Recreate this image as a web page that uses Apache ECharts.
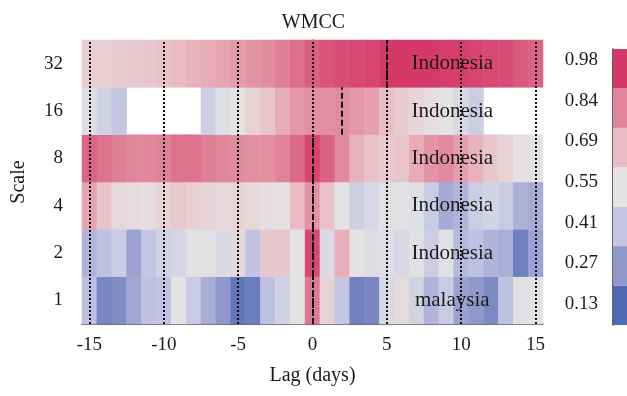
<!DOCTYPE html>
<html><head><meta charset="utf-8">
<script src="https://cdn.jsdelivr.net/npm/echarts@6/dist/echarts.min.js"></script>
<style>html,body{margin:0;padding:0;background:#fff}#c{width:627px;height:396px}</style>
</head><body><div id="c"></div>
<script>
const lags = [-15,-14,-13,-12,-11,-10,-9,-8,-7,-6,-5,-4,-3,-2,-1,0,1,2,3,4,5,6,7,8,9,10,11,12,13,14,15];
const scales = ['1','2','4','8','16','32'];
// values per scale, lags -15..15 ('-' = no value, drawn white)
const scale1  = [0.40,0.22,0.24,0.32,0.40,0.41,0.55,0.44,0.34,0.27,0.17,0.19,0.40,0.47,0.55,0.86,0.62,0.42,0.20,0.22,0.50,0.59,0.48,0.36,0.44,0.30,0.27,0.23,0.40,0.54,0.55];
const scale2  = [0.36,0.40,0.44,0.30,0.42,0.47,0.49,0.54,0.54,0.51,0.60,0.41,0.66,0.66,0.55,0.95,0.51,0.73,0.55,0.52,0.53,0.50,0.54,0.45,0.54,0.38,0.40,0.36,0.34,0.20,0.30];
const scale4  = [0.76,0.67,0.60,0.59,0.58,0.62,0.65,0.63,0.61,0.60,0.62,0.60,0.58,0.57,0.70,0.80,0.68,0.55,0.46,0.50,0.54,0.54,0.53,0.44,0.33,0.36,0.45,0.48,0.44,0.35,0.33];
const scale8  = [0.90,0.87,0.85,0.83,0.83,0.84,0.87,0.87,0.85,0.83,0.82,0.81,0.81,0.84,0.89,0.96,0.90,0.82,0.72,0.68,0.65,0.67,0.74,0.80,0.82,0.77,0.72,0.66,0.62,0.57,0.56];
const scale16 = [0.53,0.47,0.42,'-','-','-','-','-',0.46,0.53,0.56,0.62,0.67,0.74,0.79,0.81,0.81,0.82,0.79,0.77,0.69,0.64,0.61,0.58,0.55,0.50,0.45,'-','-','-','-'];
const scale32 = [0.63,0.63,0.64,0.65,0.66,0.68,0.70,0.72,0.74,0.76,0.78,0.80,0.82,0.85,0.88,0.91,0.93,0.94,0.95,0.96,0.98,0.98,0.98,0.98,0.97,0.97,0.96,0.95,0.94,0.92,0.90];
const rows = [scale1, scale2, scale4, scale8, scale16, scale32];
const countries = ['malaysia','Indonesia','Indonesia','Indonesia','Indonesia','Indonesia'];
const countryLag = 9.4;
const peakLags = [0,0,0,0,2,5];
const refLags = [-15,-10,-5,0,5,10,15];
const xTickLabels = ['-15','-10','-5','0','5','10','15'];
const legendTicks = ['0.13','0.27','0.41','0.55','0.69','0.84','0.98'];
const legendColors = ['#4f69b4','#9198cb','#c3c5e3','#e4e4e4','#eabcc5','#e0849b','#d5396a'];

const FONT = 'Liberation Serif';
const TXT = '#1e1a1b';
const AX = '#333333';

const heatData = [];
rows.forEach((r, i) => r.forEach((v, j) => heatData.push([j, i, v])));

const lineData = [];
refLags.forEach(v => lineData.push({xAxis: v, lineStyle: {type: [2, 2], width: 2, color: '#111'}}));
peakLags.forEach((p, i) => lineData.push([
  {coord: [p, i], lineStyle: {type: [6, 3], width: 2, color: '#111'}},
  {coord: [p, i + 1]}
]));

const chart = echarts.init(document.getElementById('c'), null, {renderer: 'canvas'});
chart.setOption({
  animation: false,
  backgroundColor: '#fff',
  title: {text: 'WMCC', left: 'center', top: 8,
    textStyle: {fontFamily: FONT, fontSize: 20, fontWeight: 'normal', color: TXT}},
  grid: [
    {left: 82, width: 461, top: 40, height: 284},
    {left: 613, width: 40, top: 49, height: 276},
    {left: 613, width: 40, top: 40, height: 284}
  ],
  visualMap: {type: 'continuous', show: false, min: 0.13, max: 0.98, seriesIndex: 0,
    inRange: {color: legendColors}},
  xAxis: [
    {type: 'category', gridIndex: 0, data: lags.map(String),
      name: 'Lag (days)', nameLocation: 'middle', nameGap: 42,
      nameTextStyle: {fontFamily: FONT, fontSize: 20, color: TXT},
      axisLine: {lineStyle: {color: AX, width: 1.5}},
      axisTick: {alignWithLabel: true, length: 8, lineStyle: {color: AX, width: 1.5},
        interval: (i, v) => xTickLabels.includes(v)},
      axisLabel: {interval: (i, v) => xTickLabels.includes(v), margin: 12,
        fontFamily: FONT, fontSize: 19, color: TXT},
      splitLine: {show: false}},
    {type: 'value', gridIndex: 0, min: -15.5, max: 15.5, show: false},
    {type: 'value', gridIndex: 1, min: 0, max: 1, show: false},
    {type: 'value', gridIndex: 2, min: 0, max: 1, show: false}
  ],
  yAxis: [
    {type: 'category', gridIndex: 0, data: scales,
      name: 'Scale', nameLocation: 'middle', nameGap: 53, nameRotate: 90,
      nameTextStyle: {fontFamily: FONT, fontSize: 20, color: TXT},
      axisLine: {lineStyle: {color: AX, width: 1.5}},
      axisTick: {alignWithLabel: true, length: 10, lineStyle: {color: AX, width: 1.5}},
      axisLabel: {margin: 19, fontFamily: FONT, fontSize: 19, color: TXT},
      splitLine: {show: false}},
    {type: 'value', gridIndex: 0, min: 0, max: 6, show: false},
    {type: 'category', gridIndex: 1, data: legendTicks,
      axisLine: {lineStyle: {color: AX, width: 1.5}},
      axisTick: {show: false}, axisLabel: {show: false}},
    {type: 'category', gridIndex: 2, data: legendTicks,
      axisLine: {show: false},
      axisTick: {alignWithLabel: true, length: 5, lineStyle: {color: AX, width: 1.5}},
      axisLabel: {margin: 15, fontFamily: FONT, fontSize: 19, color: TXT}}
  ],
  series: [
    {type: 'heatmap', xAxisIndex: 0, yAxisIndex: 0, data: heatData,
      emphasis: {disabled: true}, itemStyle: {borderWidth: 0}},
    {type: 'scatter', xAxisIndex: 1, yAxisIndex: 1, silent: true,
      symbolSize: 1, itemStyle: {color: 'rgba(0,0,0,0)', opacity: 1},
      data: countries.map((c, i) => [countryLag, i + 0.5, c]),
      label: {show: true, position: 'inside', formatter: p => p.value[2],
        fontFamily: FONT, fontSize: 21, color: TXT, opacity: 1},
      markLine: {silent: true, symbol: ['none', 'none'], label: {show: false},
        data: lineData}, z: 5},
    {type: 'bar', xAxisIndex: 2, yAxisIndex: 2, barWidth: '100%', barCategoryGap: 0,
      silent: true,
      data: legendColors.map(c => ({value: 1, itemStyle: {color: c}}))}
  ]
});
</script></body></html>
